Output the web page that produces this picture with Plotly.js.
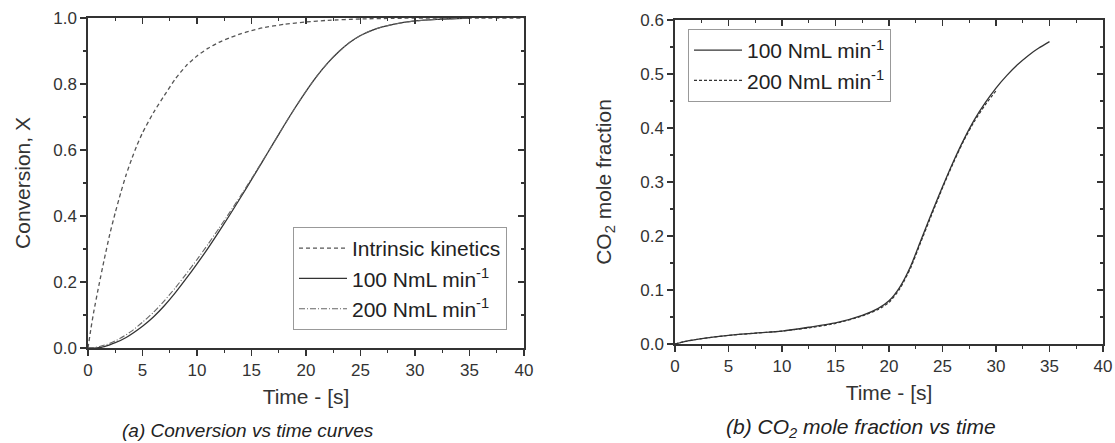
<!DOCTYPE html>
<html>
<head>
<meta charset="utf-8">
<script src="https://cdn.plot.ly/plotly-3.0.1.min.js"></script>
<style>
  html, body { margin: 0; padding: 0; background: #fff; }
  #chart { width: 1115px; height: 443px; }
</style>
</head>
<body>
<div id="chart"></div>
<script>
// ---------- Data (a) Conversion vs time ----------
const tIntrinsic = [0, 0.25, 0.5, 1, 1.5, 2, 2.5, 3, 3.5, 4, 4.5, 5, 6, 7, 8, 9, 10, 11, 12, 13, 14, 15, 16, 18, 20, 22, 25, 28, 32, 36, 40];
const xIntrinsic = [0, 0.055, 0.105, 0.19, 0.27, 0.345, 0.41, 0.47, 0.525, 0.572, 0.615, 0.652, 0.713, 0.765, 0.815, 0.855, 0.885, 0.908, 0.926, 0.94, 0.952, 0.962, 0.97, 0.981, 0.988, 0.993, 0.997, 0.999, 1.0, 1.0, 1.0];

const t100 = [0, 0.8, 1.5, 2.5, 3.5, 5, 6, 7, 8, 9, 10, 11, 12, 13, 14, 15, 16, 17, 18, 19, 20, 21, 22, 23, 24, 25, 26, 27, 28, 30, 32, 35];
const x100 = [0, 0, 0.004, 0.016, 0.032, 0.066, 0.094, 0.128, 0.167, 0.21, 0.255, 0.302, 0.352, 0.403, 0.456, 0.51, 0.565, 0.62, 0.675, 0.728, 0.778, 0.824, 0.864, 0.898, 0.926, 0.947, 0.962, 0.973, 0.981, 0.991, 0.996, 1.0];

const t200 = [0, 0.5, 1, 2, 3, 4, 5, 6, 7, 8, 9, 10, 11, 12, 13, 14, 15, 16, 17, 18, 19, 20, 21, 22, 23, 24, 25, 26, 27, 28, 30, 32, 35];
const x200 = [0, 0.001, 0.004, 0.014, 0.03, 0.051, 0.078, 0.108, 0.143, 0.182, 0.224, 0.268, 0.314, 0.362, 0.411, 0.461, 0.513, 0.566, 0.62, 0.675, 0.728, 0.778, 0.824, 0.864, 0.898, 0.926, 0.947, 0.962, 0.973, 0.981, 0.991, 0.996, 1.0];

// ---------- Data (b) CO2 mole fraction vs time ----------
const tCO2_100 = [0, 1, 2.5, 5, 7.5, 10, 12.5, 15, 17.5, 19, 20, 21, 22, 23, 24, 25, 26, 27, 28, 29, 30, 31, 32, 33, 34, 35];
const yCO2_100 = [0, 0.005, 0.010, 0.016, 0.020, 0.024, 0.031, 0.039, 0.053, 0.066, 0.08, 0.105, 0.143, 0.193, 0.243, 0.291, 0.337, 0.379, 0.416, 0.447, 0.474, 0.497, 0.517, 0.534, 0.548, 0.56];

const tCO2_200 = [0, 1, 2.5, 5, 7.5, 10, 12.5, 15, 17.5, 19, 20, 21, 22, 23, 24, 25, 26, 27, 28, 29, 30];
const yCO2_200 = [0, 0.005, 0.010, 0.016, 0.020, 0.024, 0.030, 0.038, 0.052, 0.064, 0.077, 0.102, 0.140, 0.190, 0.240, 0.289, 0.335, 0.377, 0.413, 0.443, 0.469];

const legendLabels = ["Intrinsic kinetics", "100 NmL min<sup>-1</sup>", "200 NmL min<sup>-1</sup>"];

// ---------- Styling ----------
const FONT = "Liberation Sans, Arial, sans-serif";
const INK = "#333333";
const W = 1115, H = 443;
const px = v => v / W;
const py = v => 1 - v / H;

const traces = [
  { x: tIntrinsic, y: xIntrinsic, xaxis: "x", yaxis: "y", mode: "lines", name: legendLabels[0],
    line: { color: "#555555", width: 1.3, dash: "4px,3px", shape: "spline", smoothing: 0.6 }, legend: "legend" },
  { x: t100, y: x100, xaxis: "x", yaxis: "y", mode: "lines", name: legendLabels[1],
    line: { color: "#333333", width: 1.3, shape: "spline", smoothing: 0.6 }, legend: "legend" },
  { x: t200, y: x200, xaxis: "x", yaxis: "y", mode: "lines", name: legendLabels[2],
    line: { color: "#666666", width: 1.1, dash: "6px,2px,1px,2px", shape: "spline", smoothing: 0.6 }, legend: "legend" },
  { x: tCO2_100, y: yCO2_100, xaxis: "x2", yaxis: "y2", mode: "lines", name: legendLabels[1],
    line: { color: "#333333", width: 1.3, shape: "spline", smoothing: 0.6 }, legend: "legend2" },
  { x: tCO2_200, y: yCO2_200, xaxis: "x2", yaxis: "y2", mode: "lines", name: legendLabels[2],
    line: { color: "#333333", width: 1.2, dash: "3px,2px", shape: "spline", smoothing: 0.6 }, legend: "legend2" },
  // empty carriers so the mirrored (top/right) frame axes are drawn
  { x: [], y: [], xaxis: "x3", yaxis: "y3", mode: "lines", showlegend: false, hoverinfo: "skip" },
  { x: [], y: [], xaxis: "x4", yaxis: "y4", mode: "lines", showlegend: false, hoverinfo: "skip" }
];

const tickFont = { family: FONT, size: 17, color: INK };
const titleFont = { family: FONT, size: 21, color: INK };

function mainX(domain, anchor) {
  return {
    domain: domain, anchor: anchor, range: [0, 40], tick0: 0, dtick: 5,
    ticks: "outside", ticklen: 6, tickwidth: 1.3, tickcolor: INK,
    minor: { ticks: "outside", dtick: 2.5, ticklen: 3, tickwidth: 1.2, tickcolor: INK },
    showline: true, linecolor: INK, linewidth: 1.6, showgrid: false, zeroline: false,
    tickfont: tickFont, fixedrange: true,
    title: { text: "Time - [s]", font: titleFont, standoff: 10 }
  };
}
function mainY(domain, anchor, range, dtick, mdtick, fmt, title, standoff) {
  return {
    domain: domain, anchor: anchor, range: range, tick0: 0, dtick: dtick, tickformat: fmt,
    ticks: "outside", ticklen: 6, tickwidth: 1.3, tickcolor: INK,
    minor: { ticks: "outside", dtick: mdtick, ticklen: 3, tickwidth: 1.2, tickcolor: INK },
    showline: true, linecolor: INK, linewidth: 1.6, showgrid: false, zeroline: false,
    tickfont: tickFont, fixedrange: true,
    title: { text: title, font: titleFont, standoff: standoff }
  };
}
function mirrorX(over, anchor) {
  return {
    overlaying: over, anchor: anchor, side: "top", range: [0, 40], tick0: 0, dtick: 5,
    ticks: "inside", ticklen: 6, tickwidth: 1.3, tickcolor: INK,
    minor: { ticks: "inside", dtick: 2.5, ticklen: 3, tickwidth: 1.2, tickcolor: INK },
    showline: true, linecolor: INK, linewidth: 1.6, showgrid: false, zeroline: false,
    showticklabels: false, fixedrange: true
  };
}
function mirrorY(over, anchor, range, dtick, mdtick) {
  return {
    overlaying: over, anchor: anchor, side: "right", range: range, tick0: 0, dtick: dtick,
    ticks: "inside", ticklen: 6, tickwidth: 1.3, tickcolor: INK,
    minor: { ticks: "inside", dtick: mdtick, ticklen: 3, tickwidth: 1.2, tickcolor: INK },
    showline: true, linecolor: INK, linewidth: 1.6, showgrid: false, zeroline: false,
    showticklabels: false, fixedrange: true
  };
}

const legendCommon = {
  font: { family: FONT, size: 21, color: "#222222" },
  bgcolor: "rgba(255,255,255,1)", bordercolor: "#999999", borderwidth: 1,
  tracegroupgap: 0, itemwidth: 48, itemclick: false, itemdoubleclick: false
};

const layout = {
  width: W, height: H,
  margin: { l: 0, r: 0, t: 0, b: 0 },
  paper_bgcolor: "#ffffff", plot_bgcolor: "#ffffff",
  font: { family: FONT, color: INK },
  showlegend: true,
  xaxis: mainX([px(88), px(524)], "y"),
  yaxis: mainY([py(348), py(18)], "x", [0, 1], 0.2, 0.1, ".1f", "Conversion, X", 17),
  xaxis3: mirrorX("x", "y"),
  yaxis3: mirrorY("y", "x", [0, 1], 0.2, 0.1),
  xaxis2: mainX([px(675), px(1103)], "y2"),
  yaxis2: mainY([py(344), py(20)], "x2", [0, 0.6], 0.1, 0.05, ".1f", "CO<sub>2</sub> mole fraction", 23),
  xaxis4: mirrorX("x2", "y2"),
  yaxis4: mirrorY("y2", "x2", [0, 0.6], 0.1, 0.05),
  legend: Object.assign({}, legendCommon, { x: px(507), xanchor: "right", y: py(330), yanchor: "bottom" }),
  legend2: Object.assign({}, legendCommon, { x: px(688), xanchor: "left", y: py(29), yanchor: "top" }),
  annotations: [
    { text: "(a) Conversion vs time curves", xref: "paper", yref: "paper", x: px(248), y: py(430),
      xanchor: "center", yanchor: "middle", showarrow: false,
      font: { family: FONT, size: 19, color: "#222222", style: "italic" } },
    { text: "(b) CO<sub>2</sub> mole fraction vs time", xref: "paper", yref: "paper", x: px(861), y: py(428),
      xanchor: "center", yanchor: "middle", showarrow: false,
      font: { family: FONT, size: 21, color: "#222222", style: "italic" } }
  ]
};

Plotly.newPlot("chart", traces, layout, { staticPlot: true, displayModeBar: false });
</script>
</body>
</html>
